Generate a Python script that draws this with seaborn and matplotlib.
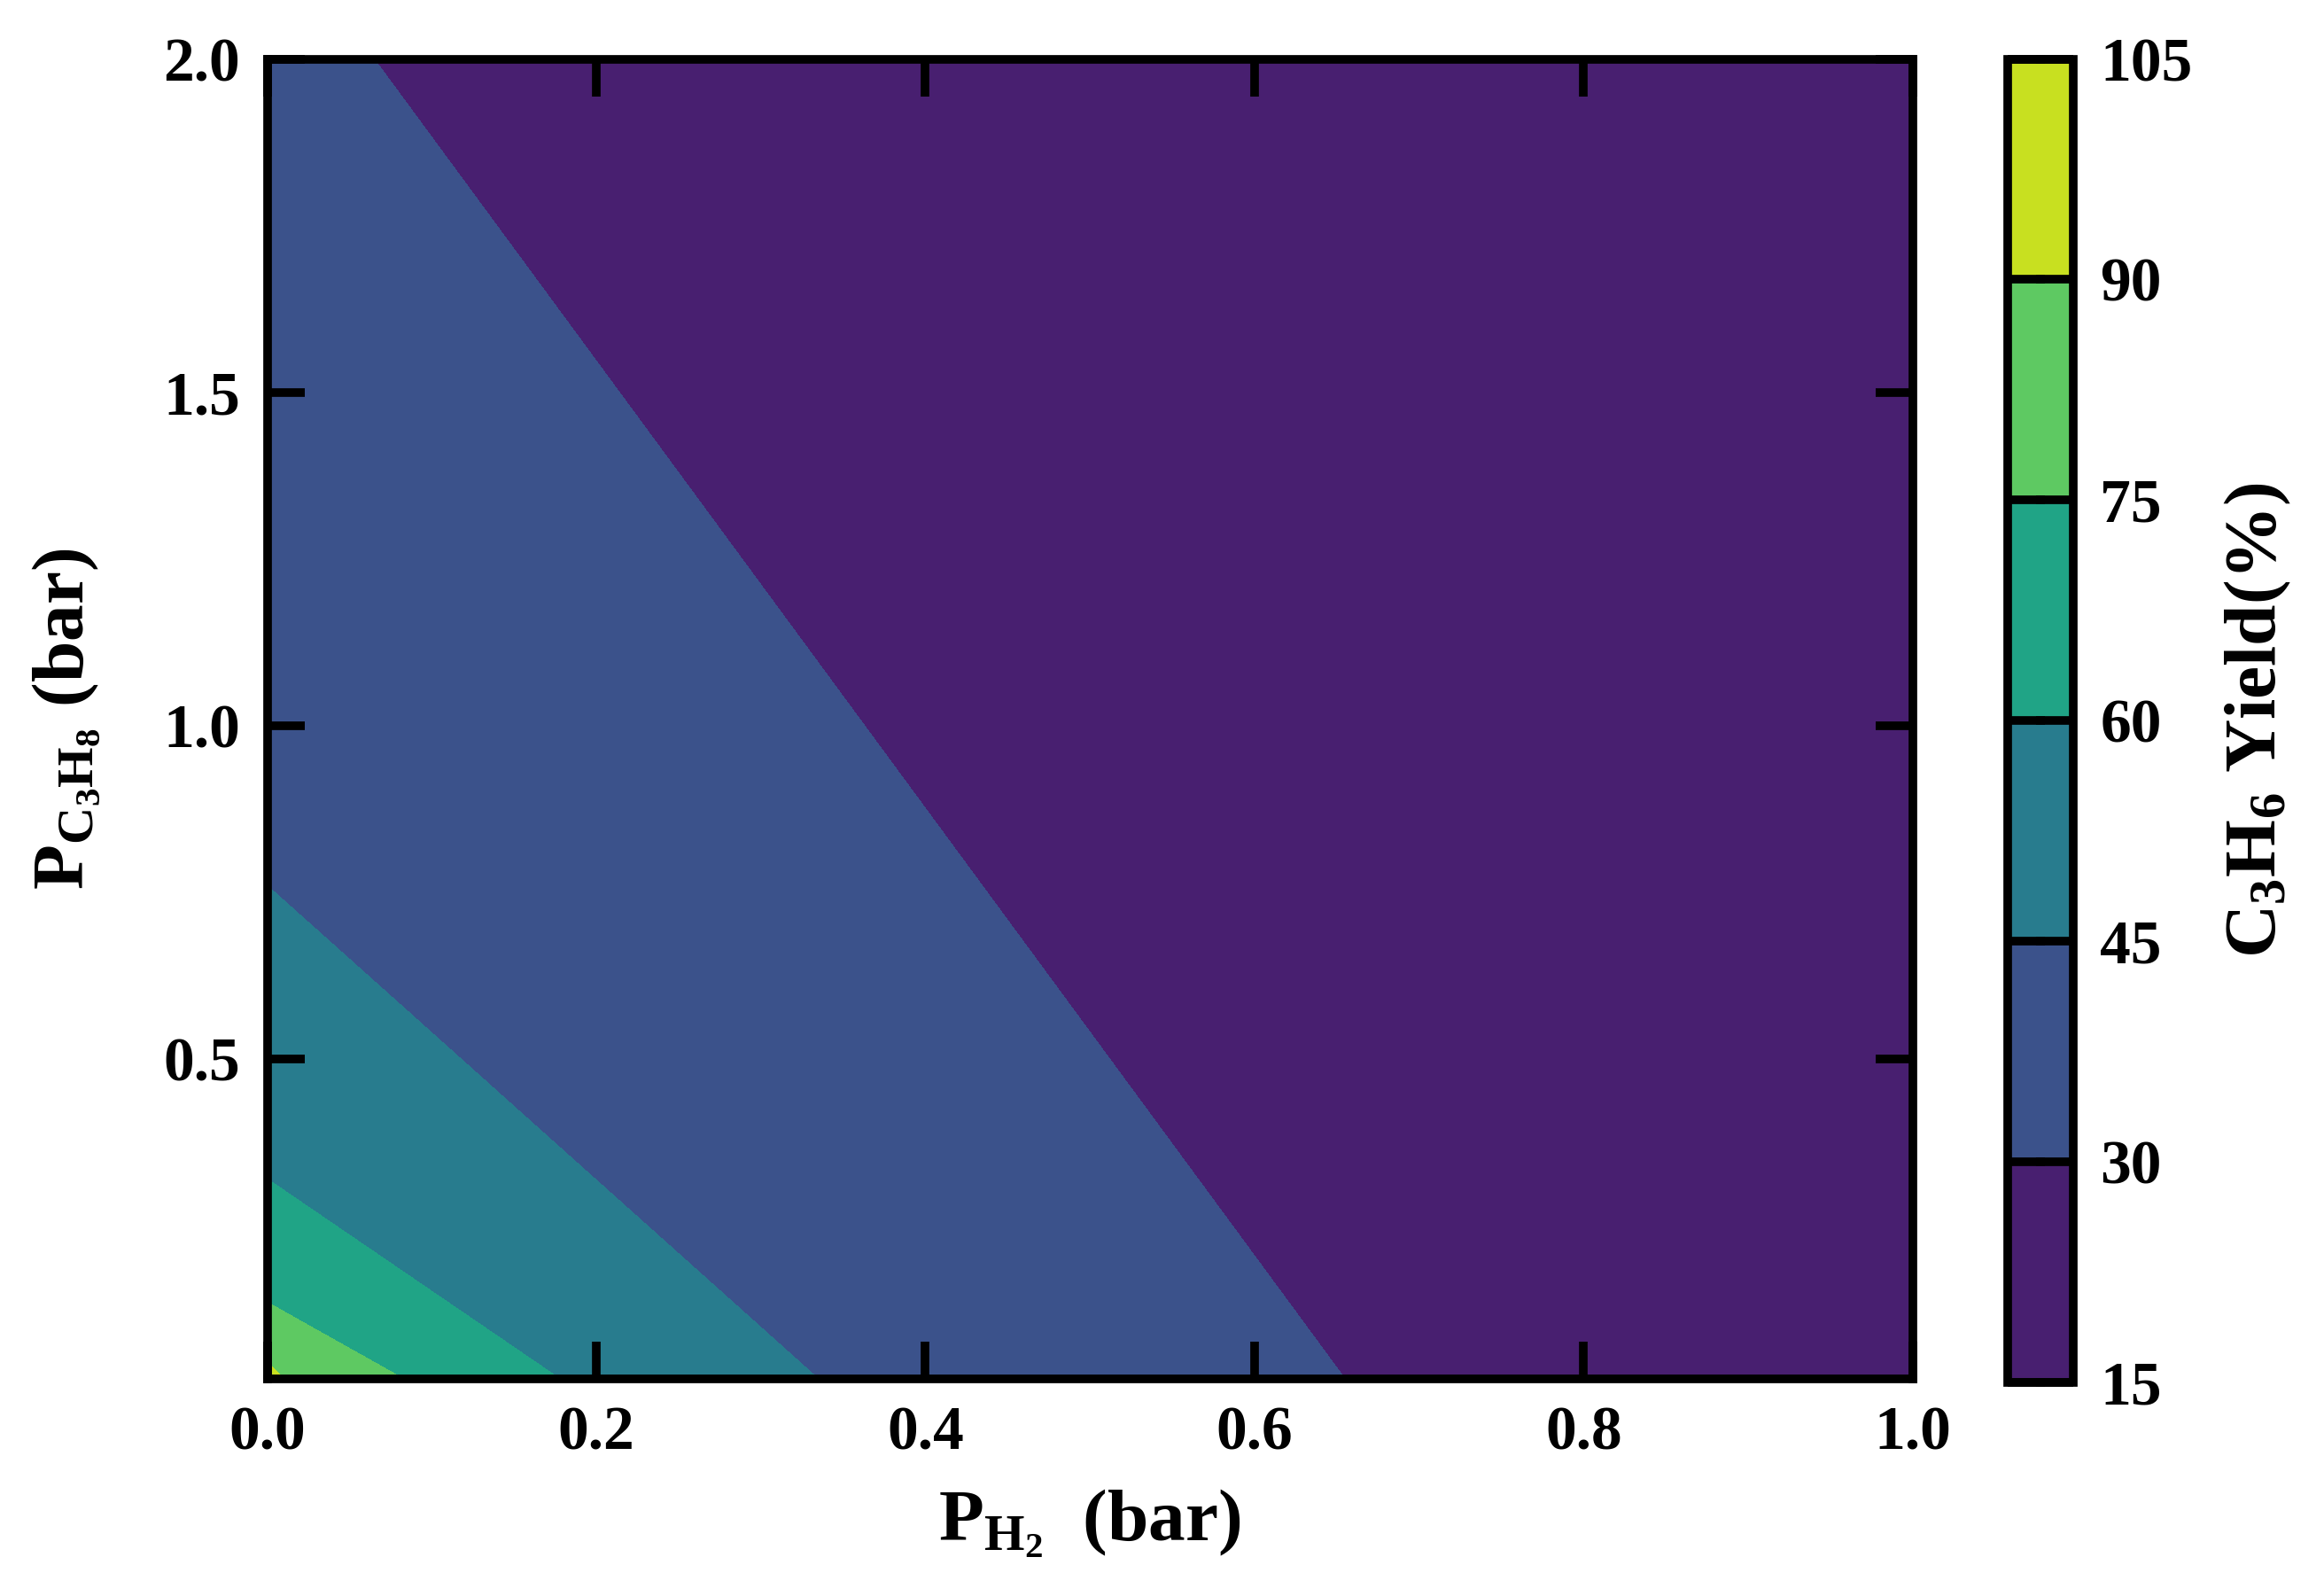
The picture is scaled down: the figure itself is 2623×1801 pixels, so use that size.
import numpy as np
import matplotlib
matplotlib.use("Agg")
import matplotlib.pyplot as plt
import matplotlib.tri as mtri
import seaborn as sns

sns.set_style("ticks")
plt.rcParams['font.family'] = ['Liberation Serif', 'DejaVu Serif']
plt.rcParams['font.weight'] = 'bold'
plt.rcParams['mathtext.fontset'] = 'custom'
plt.rcParams['mathtext.rm'] = 'Liberation Serif:bold'
plt.rcParams['mathtext.bf'] = 'Liberation Serif:bold'
plt.rcParams['mathtext.it'] = 'Liberation Serif:bold'
plt.rcParams['mathtext.default'] = 'bf'
plt.rcParams['text.color'] = 'black'
plt.rcParams['axes.labelcolor'] = 'black'
plt.rcParams['xtick.color'] = 'black'
plt.rcParams['ytick.color'] = 'black'
plt.rcParams['axes.edgecolor'] = 'black'

# points (x = P_H2, y = P_C3H8, value = yield %)
p_h2 = [0.0, 0.0, 0.0, 0.0, 0.0, 0.0,
        0.01, 0.005,
        0.083, 0.0415,
        0.178, 0.089,
        0.335, 0.2513, 0.1675, 0.0838,
        0.655, 0.5075, 0.36, 0.2125, 0.065,
        1.0, 1.0, 1.0, 0.8, 0.45, 0.7]
p_c3h8 = [0.02, 0.045, 0.135, 0.32, 0.76, 2.0,
          0.02, 0.0325,
          0.02, 0.0775,
          0.02, 0.17,
          0.02, 0.205, 0.39, 0.575,
          0.02, 0.515, 1.01, 1.505, 2.0,
          0.02, 1.0, 2.0, 0.02, 2.0, 2.0]
yield_pct = [100, 90, 75, 60, 45, 33,
             90, 90,
             75, 75,
             60, 60,
             45, 45, 45, 45,
             30, 30, 30, 30, 30,
             22, 20, 18, 26, 24, 21]
levels = [15, 30, 45, 60, 75, 90, 105]

fig = plt.figure(figsize=(26.23, 18.01), dpi=100)
ax = fig.add_axes([0.115, 0.136, 0.708, 0.827])
cax = fig.add_axes([0.864, 0.134, 0.028, 0.829])

tri = mtri.Triangulation(p_h2, p_c3h8)
cf = ax.tricontourf(tri, yield_pct, levels=levels, cmap='viridis')
ax.set_axisbelow(False)

ax.set_xlim(0, 1.0)
ax.set_ylim(0.02, 2.0)
ax.set_xticks([0.0, 0.2, 0.4, 0.6, 0.8, 1.0])
ax.set_yticks([0.5, 1.0, 1.5, 2.0])
ax.xaxis.set_major_formatter(matplotlib.ticker.FormatStrFormatter('%.1f'))
ax.yaxis.set_major_formatter(matplotlib.ticker.FormatStrFormatter('%.1f'))
ax.tick_params(direction='in', length=30, width=7, labelsize=50, pad=22,
               top=True, right=True)
for s in ax.spines.values():
    s.set_linewidth(7)
ax.set_xlabel(r'$P_{H_2}$  (bar)', fontsize=60, fontweight='bold', labelpad=20)
ax.set_ylabel(r'$P_{C_3H_8}$ (bar)', fontsize=60, fontweight='bold', labelpad=50)

cb = fig.colorbar(cf, cax=cax, ticks=levels)
cb.outline.set_linewidth(7)
cax.set_axisbelow(False)
cax.tick_params(direction='in', length=30, width=7, labelsize=50, pad=22,
                left=True, right=True)
cb.set_label(r'$C_3H_6$ Yield(%)', fontsize=60, fontweight='bold', labelpad=25)

fig.savefig('out.png', dpi=100)
